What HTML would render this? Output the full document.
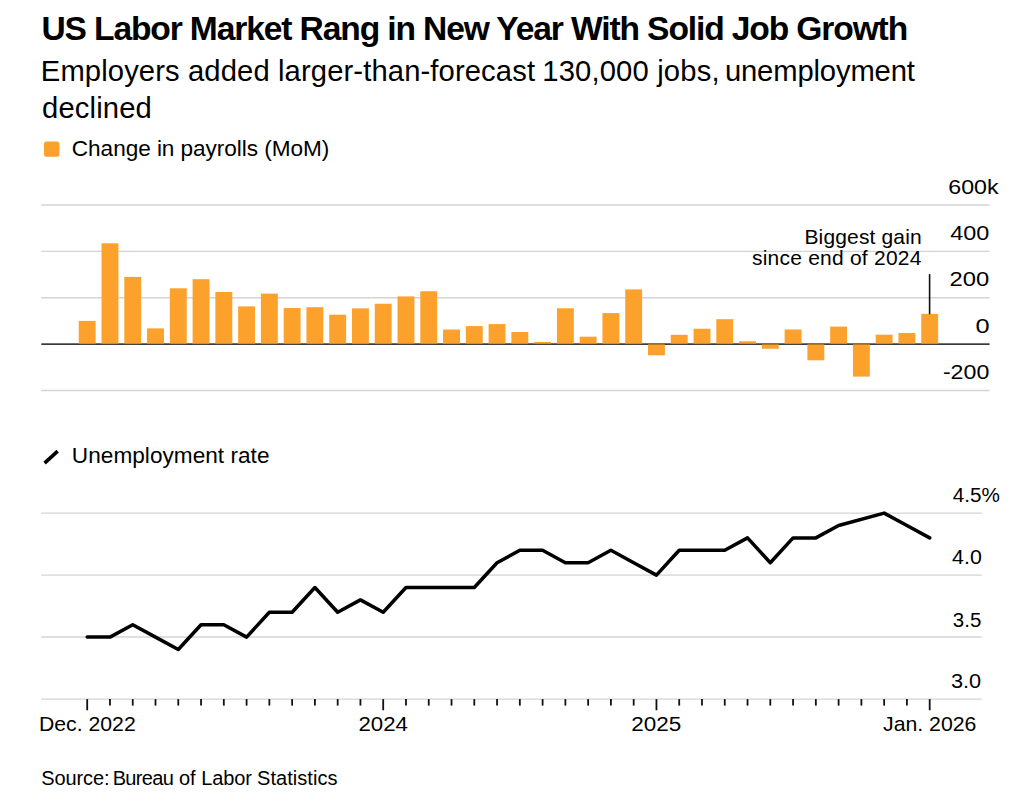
<!DOCTYPE html>
<html><head><meta charset="utf-8"><style>
html,body{margin:0;padding:0;background:#fff;width:1024px;height:808px;overflow:hidden}
svg{display:block}
text{font-family:"Liberation Sans",sans-serif}
</style></head><body>
<svg width="1024" height="808" viewBox="0 0 1024 808">
<rect width="1024" height="808" fill="#fff"/>
<line x1="41.3" x2="989.5" y1="205.0" y2="205.0" stroke="#d4d4d4" stroke-width="1.4"/>
<line x1="41.3" x2="989.5" y1="251.4" y2="251.4" stroke="#d4d4d4" stroke-width="1.4"/>
<line x1="41.3" x2="989.5" y1="297.75" y2="297.75" stroke="#d4d4d4" stroke-width="1.4"/>
<line x1="41.3" x2="989.5" y1="390.5" y2="390.5" stroke="#d4d4d4" stroke-width="1.4"/>
<line x1="41.3" x2="989.5" y1="344.1" y2="344.1" stroke="#111" stroke-width="1.45"/>
<rect x="78.75" y="320.90" width="16.9" height="23.20" fill="#fca12b"/>
<rect x="101.52" y="243.30" width="16.9" height="100.80" fill="#fca12b"/>
<rect x="124.29" y="276.90" width="16.9" height="67.20" fill="#fca12b"/>
<rect x="147.06" y="328.40" width="16.9" height="15.70" fill="#fca12b"/>
<rect x="169.83" y="288.30" width="16.9" height="55.80" fill="#fca12b"/>
<rect x="192.60" y="279.20" width="16.9" height="64.90" fill="#fca12b"/>
<rect x="215.37" y="292.00" width="16.9" height="52.10" fill="#fca12b"/>
<rect x="238.14" y="306.40" width="16.9" height="37.70" fill="#fca12b"/>
<rect x="260.91" y="293.60" width="16.9" height="50.50" fill="#fca12b"/>
<rect x="283.68" y="308.00" width="16.9" height="36.10" fill="#fca12b"/>
<rect x="306.45" y="307.20" width="16.9" height="36.90" fill="#fca12b"/>
<rect x="329.22" y="314.70" width="16.9" height="29.40" fill="#fca12b"/>
<rect x="351.99" y="308.40" width="16.9" height="35.70" fill="#fca12b"/>
<rect x="374.76" y="303.75" width="16.9" height="40.35" fill="#fca12b"/>
<rect x="397.53" y="296.40" width="16.9" height="47.70" fill="#fca12b"/>
<rect x="420.30" y="291.25" width="16.9" height="52.85" fill="#fca12b"/>
<rect x="443.07" y="329.50" width="16.9" height="14.60" fill="#fca12b"/>
<rect x="465.84" y="326.10" width="16.9" height="18.00" fill="#fca12b"/>
<rect x="488.61" y="324.10" width="16.9" height="20.00" fill="#fca12b"/>
<rect x="511.38" y="332.00" width="16.9" height="12.10" fill="#fca12b"/>
<rect x="534.15" y="341.90" width="16.9" height="2.20" fill="#fca12b"/>
<rect x="556.92" y="308.30" width="16.9" height="35.80" fill="#fca12b"/>
<rect x="579.69" y="336.70" width="16.9" height="7.40" fill="#fca12b"/>
<rect x="602.46" y="313.10" width="16.9" height="31.00" fill="#fca12b"/>
<rect x="625.23" y="289.40" width="16.9" height="54.70" fill="#fca12b"/>
<rect x="648.00" y="344.10" width="16.9" height="11.20" fill="#fca12b"/>
<rect x="670.77" y="334.80" width="16.9" height="9.30" fill="#fca12b"/>
<rect x="693.54" y="328.75" width="16.9" height="15.35" fill="#fca12b"/>
<rect x="716.31" y="319.20" width="16.9" height="24.90" fill="#fca12b"/>
<rect x="739.08" y="341.25" width="16.9" height="2.85" fill="#fca12b"/>
<rect x="761.85" y="344.10" width="16.9" height="4.65" fill="#fca12b"/>
<rect x="784.62" y="329.50" width="16.9" height="14.60" fill="#fca12b"/>
<rect x="807.39" y="344.10" width="16.9" height="16.20" fill="#fca12b"/>
<rect x="830.16" y="326.60" width="16.9" height="17.50" fill="#fca12b"/>
<rect x="852.93" y="344.10" width="16.9" height="32.50" fill="#fca12b"/>
<rect x="875.70" y="334.70" width="16.9" height="9.40" fill="#fca12b"/>
<rect x="898.47" y="333.00" width="16.9" height="11.10" fill="#fca12b"/>
<rect x="921.24" y="313.90" width="16.9" height="30.20" fill="#fca12b"/>
<line x1="41.3" x2="989.5" y1="344.1" y2="344.1" stroke="#000" stroke-opacity="0.3" stroke-width="1.45"/>
<line x1="929.6" x2="929.6" y1="274.1" y2="314.2" stroke="#111" stroke-width="1.6"/>
<line x1="41.3" x2="981.7" y1="513.1" y2="513.1" stroke="#d4d4d4" stroke-width="1.4"/>
<line x1="41.3" x2="981.7" y1="575.1" y2="575.1" stroke="#d4d4d4" stroke-width="1.4"/>
<line x1="41.3" x2="981.7" y1="637.0" y2="637.0" stroke="#d4d4d4" stroke-width="1.4"/>
<line x1="41.3" x2="981.7" y1="699.1" y2="699.1" stroke="#d4d4d4" stroke-width="1.4"/>
<line x1="87.20" x2="87.20" y1="699.1" y2="710.3" stroke="#111" stroke-width="1.8"/>
<line x1="109.97" x2="109.97" y1="699.1" y2="705.6" stroke="#111" stroke-width="1.8"/>
<line x1="132.74" x2="132.74" y1="699.1" y2="705.6" stroke="#111" stroke-width="1.8"/>
<line x1="155.51" x2="155.51" y1="699.1" y2="705.6" stroke="#111" stroke-width="1.8"/>
<line x1="178.28" x2="178.28" y1="699.1" y2="705.6" stroke="#111" stroke-width="1.8"/>
<line x1="201.05" x2="201.05" y1="699.1" y2="705.6" stroke="#111" stroke-width="1.8"/>
<line x1="223.82" x2="223.82" y1="699.1" y2="705.6" stroke="#111" stroke-width="1.8"/>
<line x1="246.59" x2="246.59" y1="699.1" y2="705.6" stroke="#111" stroke-width="1.8"/>
<line x1="269.36" x2="269.36" y1="699.1" y2="705.6" stroke="#111" stroke-width="1.8"/>
<line x1="292.13" x2="292.13" y1="699.1" y2="705.6" stroke="#111" stroke-width="1.8"/>
<line x1="314.90" x2="314.90" y1="699.1" y2="705.6" stroke="#111" stroke-width="1.8"/>
<line x1="337.67" x2="337.67" y1="699.1" y2="705.6" stroke="#111" stroke-width="1.8"/>
<line x1="360.44" x2="360.44" y1="699.1" y2="705.6" stroke="#111" stroke-width="1.8"/>
<line x1="383.21" x2="383.21" y1="699.1" y2="710.3" stroke="#111" stroke-width="1.8"/>
<line x1="405.98" x2="405.98" y1="699.1" y2="705.6" stroke="#111" stroke-width="1.8"/>
<line x1="428.75" x2="428.75" y1="699.1" y2="705.6" stroke="#111" stroke-width="1.8"/>
<line x1="451.52" x2="451.52" y1="699.1" y2="705.6" stroke="#111" stroke-width="1.8"/>
<line x1="474.29" x2="474.29" y1="699.1" y2="705.6" stroke="#111" stroke-width="1.8"/>
<line x1="497.06" x2="497.06" y1="699.1" y2="705.6" stroke="#111" stroke-width="1.8"/>
<line x1="519.83" x2="519.83" y1="699.1" y2="705.6" stroke="#111" stroke-width="1.8"/>
<line x1="542.60" x2="542.60" y1="699.1" y2="705.6" stroke="#111" stroke-width="1.8"/>
<line x1="565.37" x2="565.37" y1="699.1" y2="705.6" stroke="#111" stroke-width="1.8"/>
<line x1="588.14" x2="588.14" y1="699.1" y2="705.6" stroke="#111" stroke-width="1.8"/>
<line x1="610.91" x2="610.91" y1="699.1" y2="705.6" stroke="#111" stroke-width="1.8"/>
<line x1="633.68" x2="633.68" y1="699.1" y2="705.6" stroke="#111" stroke-width="1.8"/>
<line x1="656.45" x2="656.45" y1="699.1" y2="710.3" stroke="#111" stroke-width="1.8"/>
<line x1="679.22" x2="679.22" y1="699.1" y2="705.6" stroke="#111" stroke-width="1.8"/>
<line x1="701.99" x2="701.99" y1="699.1" y2="705.6" stroke="#111" stroke-width="1.8"/>
<line x1="724.76" x2="724.76" y1="699.1" y2="705.6" stroke="#111" stroke-width="1.8"/>
<line x1="747.53" x2="747.53" y1="699.1" y2="705.6" stroke="#111" stroke-width="1.8"/>
<line x1="770.30" x2="770.30" y1="699.1" y2="705.6" stroke="#111" stroke-width="1.8"/>
<line x1="793.07" x2="793.07" y1="699.1" y2="705.6" stroke="#111" stroke-width="1.8"/>
<line x1="815.84" x2="815.84" y1="699.1" y2="705.6" stroke="#111" stroke-width="1.8"/>
<line x1="838.61" x2="838.61" y1="699.1" y2="705.6" stroke="#111" stroke-width="1.8"/>
<line x1="861.38" x2="861.38" y1="699.1" y2="705.6" stroke="#111" stroke-width="1.8"/>
<line x1="884.15" x2="884.15" y1="699.1" y2="705.6" stroke="#111" stroke-width="1.8"/>
<line x1="906.92" x2="906.92" y1="699.1" y2="705.6" stroke="#111" stroke-width="1.8"/>
<line x1="929.69" x2="929.69" y1="699.1" y2="710.3" stroke="#111" stroke-width="1.8"/>
<polyline points="87.20,637.10 109.97,637.10 132.74,624.70 155.51,637.10 178.28,649.50 201.05,624.70 223.82,624.70 246.59,637.10 269.36,612.30 292.13,612.30 314.90,587.50 337.67,612.30 360.44,599.90 383.21,612.30 405.98,587.50 428.75,587.50 451.52,587.50 474.29,587.50 497.06,562.70 519.83,550.30 542.60,550.30 565.37,562.70 588.14,562.70 610.91,550.30 633.68,562.70 656.45,575.10 679.22,550.30 701.99,550.30 724.76,550.30 747.53,537.90 770.30,562.70 793.07,537.90 815.84,537.90 838.61,525.50 884.15,513.10 906.92,525.50 929.69,537.90" fill="none" stroke="#000" stroke-width="3.5" stroke-linejoin="round" stroke-linecap="round"/>
<text x="41.4" y="40.1" font-size="33.6" font-weight="700" textLength="866.79" lengthAdjust="spacing" fill="#000">US Labor Market Rang in New Year With Solid Job Growth</text>
<text x="40.8" y="80.9" font-size="29.2" font-weight="400" textLength="494.2" lengthAdjust="spacing" fill="#000">Employers added larger-than-forecast</text>
<text x="542.25" y="80.9" font-size="29.2" font-weight="400" textLength="177.28" lengthAdjust="spacing" fill="#000">130,000 jobs,</text>
<text x="724.9" y="80.9" font-size="29.2" font-weight="400" textLength="190.0" lengthAdjust="spacing" fill="#000">unemployment</text>
<text x="42.05" y="117.6" font-size="29.2" font-weight="400" textLength="109.73" lengthAdjust="spacing" fill="#000">declined</text>
<text x="71.85" y="155.9" font-size="22.6" font-weight="400" textLength="257.37" lengthAdjust="spacing" fill="#000">Change in payrolls (MoM)</text>
<text x="71.85" y="463.4" font-size="22.6" font-weight="400" textLength="197.61" lengthAdjust="spacing" fill="#000">Unemployment rate</text>
<text x="804.45" y="243.8" font-size="21" font-weight="400" textLength="117.24" lengthAdjust="spacing" fill="#000">Biggest gain</text>
<text x="751.95" y="265.3" font-size="21" font-weight="400" textLength="169.45" lengthAdjust="spacing" fill="#000">since end of 2024</text>
<text x="41.25" y="784.5" font-size="20" font-weight="400" textLength="68.19" lengthAdjust="spacing" fill="#000">Source:</text>
<text x="112.65" y="784.5" font-size="20" font-weight="400" textLength="61.15" lengthAdjust="spacing" fill="#000">Bureau</text>
<text x="178.95" y="784.5" font-size="20" font-weight="400" textLength="16.69" lengthAdjust="spacing" fill="#000">of</text>
<text x="201.15" y="784.5" font-size="20" font-weight="400" textLength="50.86" lengthAdjust="spacing" fill="#000">Labor</text>
<text x="257.1" y="784.5" font-size="20" font-weight="400" textLength="80.33" lengthAdjust="spacing" fill="#000">Statistics</text>
<text x="948.25" y="193.5" font-size="20.7" font-weight="400" textLength="50.26" lengthAdjust="spacingAndGlyphs" fill="#000">600k</text>
<text x="950.3" y="240.0" font-size="20.7" font-weight="400" textLength="39.1" lengthAdjust="spacingAndGlyphs" fill="#000">400</text>
<text x="949.55" y="286.3" font-size="20.7" font-weight="400" textLength="39.7" lengthAdjust="spacingAndGlyphs" fill="#000">200</text>
<text x="975.4" y="333.2" font-size="20.7" font-weight="400" textLength="14.11" lengthAdjust="spacingAndGlyphs" fill="#000">0</text>
<text x="942.9" y="379.4" font-size="20.7" font-weight="400" textLength="46.39" lengthAdjust="spacingAndGlyphs" fill="#000">-200</text>
<text x="952.7" y="502.4" font-size="20.7" font-weight="400" textLength="47.11" lengthAdjust="spacingAndGlyphs" fill="#000">4.5%</text>
<text x="952.1" y="564.4" font-size="20.7" font-weight="400" textLength="29.66" lengthAdjust="spacingAndGlyphs" fill="#000">4.0</text>
<text x="952.85" y="626.5" font-size="20.7" font-weight="400" textLength="28.45" lengthAdjust="spacingAndGlyphs" fill="#000">3.5</text>
<text x="951.0" y="688.1" font-size="20.7" font-weight="400" textLength="30.19" lengthAdjust="spacingAndGlyphs" fill="#000">3.0</text>
<text x="38.95" y="731.0" font-size="20.7" font-weight="400" textLength="96.79" lengthAdjust="spacingAndGlyphs" fill="#000">Dec. 2022</text>
<text x="358.5" y="731.0" font-size="20.7" font-weight="400" textLength="49.45" lengthAdjust="spacingAndGlyphs" fill="#000">2024</text>
<text x="631.15" y="731.2" font-size="20.7" font-weight="400" textLength="50.04" lengthAdjust="spacingAndGlyphs" fill="#000">2025</text>
<text x="883.0" y="731.2" font-size="20.7" font-weight="400" textLength="93.41" lengthAdjust="spacingAndGlyphs" fill="#000">Jan. 2026</text>
<rect x="44" y="141.4" width="15.4" height="15.4" rx="2.5" fill="#fca12b"/>
<line x1="44.6" y1="463.1" x2="57.7" y2="451.1" stroke="#000" stroke-width="3.6"/>
</svg>
</body></html>
